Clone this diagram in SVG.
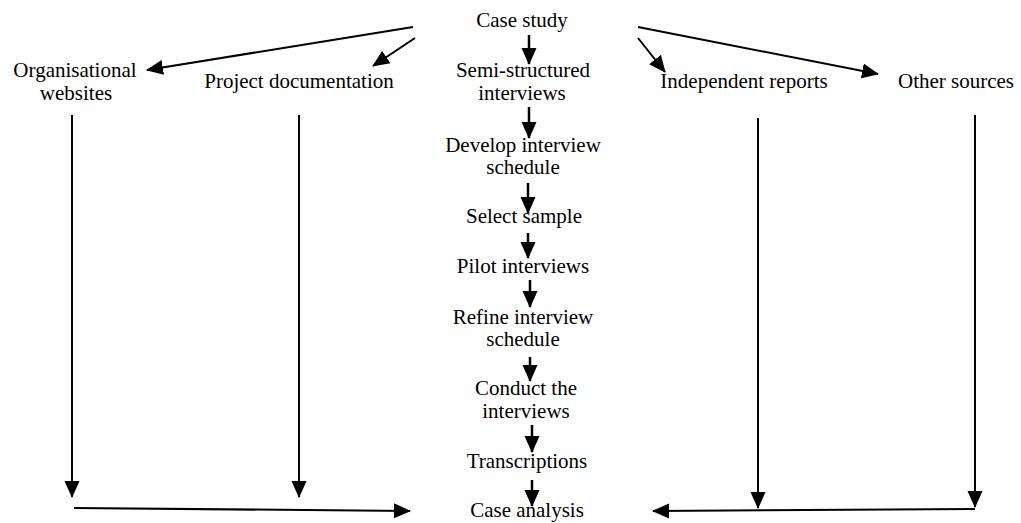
<svg xmlns="http://www.w3.org/2000/svg" width="1021" height="523" viewBox="0 0 1021 523">
<style>
text{font-family:"Liberation Serif","Times New Roman","DejaVu Serif",serif;font-size:21px;fill:#000;text-anchor:middle}
.c{stroke:#000;stroke-width:2;fill:none;marker-end:url(#ah)}
.s{stroke:#000;stroke-width:2.5;fill:none;marker-end:url(#ah)}
</style>
<defs>
<marker id="ah" markerUnits="userSpaceOnUse" markerWidth="17" markerHeight="16" refX="16" refY="7.5" orient="auto" viewBox="0 0 17 15">
<path d="M0,0 L17,7.5 L0,15 z" fill="#000"/>
</marker>
</defs>
<rect width="1021" height="523" fill="#fff"/>
<g id="connectors">
<line class="c" x1="413" y1="27" x2="147" y2="70"/>
<line class="c" x1="415" y1="38" x2="373" y2="66"/>
<line class="c" x1="638" y1="27" x2="878" y2="74"/>
<line class="c" x1="638" y1="38" x2="665" y2="72"/>
<line class="s" x1="529" y1="35" x2="529" y2="64"/>
<line class="s" x1="529" y1="107" x2="529" y2="138"/>
<line class="s" x1="528" y1="183" x2="528" y2="213"/>
<line class="s" x1="528" y1="233" x2="528" y2="258"/>
<line class="s" x1="530" y1="280" x2="530" y2="307"/>
<line class="s" x1="530" y1="357" x2="530" y2="381"/>
<line class="s" x1="532" y1="425" x2="532" y2="452"/>
<line class="s" x1="532" y1="480" x2="532" y2="506"/>
<line class="c" x1="72" y1="115" x2="72" y2="497"/>
<line class="c" x1="299" y1="115" x2="299" y2="497"/>
<line class="c" x1="758" y1="118" x2="758" y2="508"/>
<line class="c" x1="975" y1="115" x2="975" y2="507"/>
<line class="c" x1="74" y1="508" x2="410" y2="511"/>
<line class="c" x1="975" y1="509" x2="653" y2="511"/>
</g>
<g id="case-study"><text x="522" y="27">Case study</text></g>
<g id="organisational-websites"><text x="75" y="77">Organisational</text><text x="76" y="100">websites</text></g>
<g id="project-documentation"><text x="299" y="88">Project documentation</text></g>
<g id="semi-structured-interviews"><text x="523" y="77">Semi-structured</text><text x="522" y="100">interviews</text></g>
<g id="independent-reports"><text x="744" y="88">Independent reports</text></g>
<g id="other-sources"><text x="956" y="88">Other sources</text></g>
<g id="develop-interview-schedule"><text x="523" y="152">Develop interview</text><text x="523" y="174">schedule</text></g>
<g id="select-sample"><text x="524" y="223">Select sample</text></g>
<g id="pilot-interviews"><text x="523" y="273">Pilot interviews</text></g>
<g id="refine-interview-schedule"><text x="523" y="324">Refine interview</text><text x="523" y="346">schedule</text></g>
<g id="conduct-the-interviews"><text x="526" y="395">Conduct the</text><text x="526" y="418">interviews</text></g>
<g id="transcriptions"><text x="527" y="468">Transcriptions</text></g>
<g id="case-analysis"><text x="527" y="517">Case analysis</text></g>
</svg>
